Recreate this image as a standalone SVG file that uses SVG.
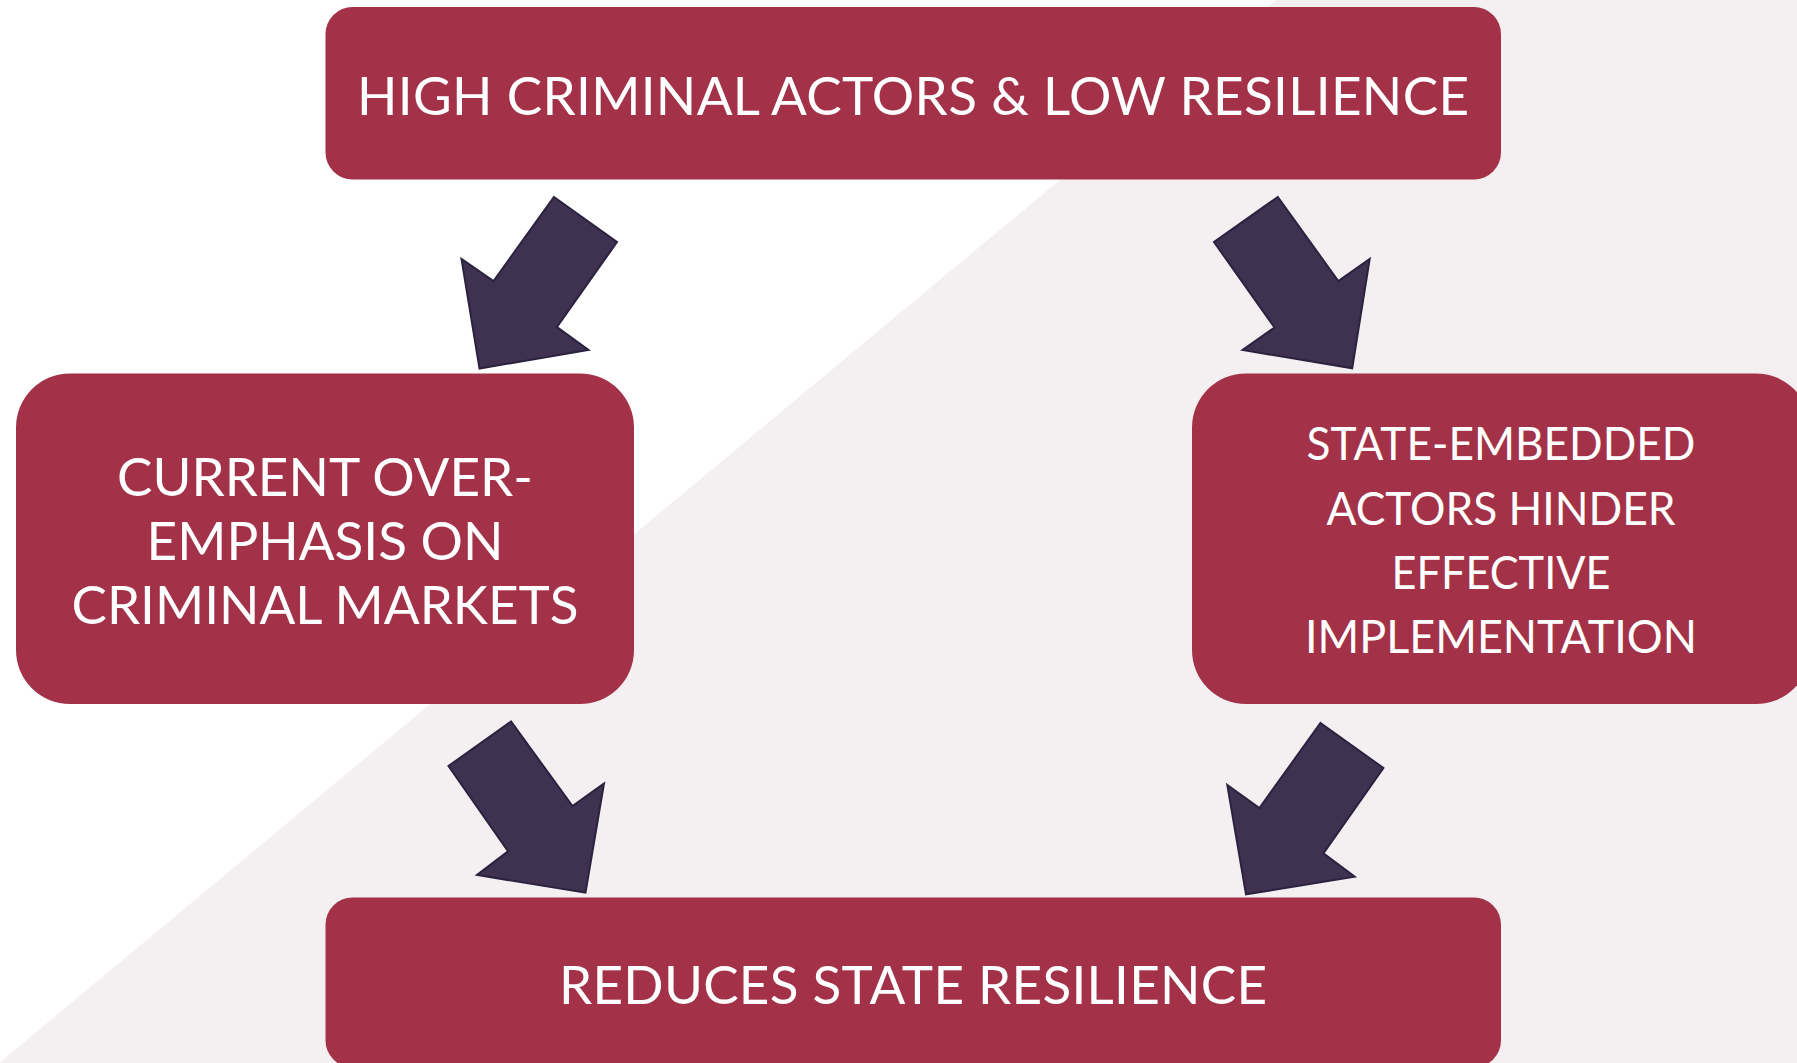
<svg xmlns="http://www.w3.org/2000/svg" width="1797" height="1063" viewBox="0 0 1797 1063">
<style>
.box{fill:#A33248;}
.arr{fill:#3F3150;stroke:#2B2240;stroke-width:2;stroke-linejoin:miter;}
.lbl{font-family:Lato,"Liberation Sans",sans-serif;font-size:53px;fill:#FFFFFF;text-anchor:middle;}
.sm{font-size:47px;}
</style>
<rect x="0" y="0" width="1797" height="1063" fill="#FFFFFF"/>
<polygon points="1276,0 1797,0 1797,1063 -1,1063" fill="#F4F0F1"/>
<g id="connectors">
<polygon class="arr" points="554,197 617,242 557,327 588.5,350 479.5,368.5 461.5,259 493.5,281"/>
<polygon class="arr" points="1277.7,197 1214,242 1274.5,327.5 1242.6,350 1352.2,368.3 1369.7,259 1338.3,281"/>
<polygon class="arr" points="511,721.5 448.5,766 508,851.3 477,875 585.5,892.7 604,783.5 572.5,806"/>
<polygon class="arr" points="1320.5,723 1383.4,768 1323.4,853.3 1354.7,876.7 1246,894.4 1227.3,785 1259.4,808"/>
</g>
<g id="node-top">
<rect class="box" x="325.5" y="7" width="1175.5" height="172.5" rx="27" ry="27"/>
<text class="lbl" x="913" y="114.5" textLength="1112">HIGH CRIMINAL ACTORS &amp; LOW RESILIENCE</text>
</g>
<g id="node-left">
<rect class="box" x="16" y="373.5" width="618" height="330.5" rx="54" ry="54"/>
<text class="lbl" x="325" y="495.5">CURRENT OVER-</text>
<text class="lbl" x="325" y="560">EMPHASIS ON</text>
<text class="lbl" x="325" y="623.5">CRIMINAL MARKETS</text>
</g>
<g id="node-right">
<rect class="box" x="1192" y="373.5" width="618" height="330.5" rx="54" ry="54"/>
<text class="lbl sm" x="1501" y="460" textLength="389" lengthAdjust="spacingAndGlyphs">STATE-EMBEDDED</text>
<text class="lbl sm" x="1501" y="524.5" textLength="349" lengthAdjust="spacingAndGlyphs">ACTORS HINDER</text>
<text class="lbl sm" x="1501" y="588.5" textLength="219" lengthAdjust="spacingAndGlyphs">EFFECTIVE</text>
<text class="lbl sm" x="1501" y="652.5" textLength="392" lengthAdjust="spacingAndGlyphs">IMPLEMENTATION</text>
</g>
<g id="node-bottom">
<rect class="box" x="325.5" y="897.5" width="1175.5" height="170" rx="27" ry="27"/>
<text class="lbl" x="913" y="1004" textLength="708">REDUCES STATE RESILIENCE</text>
</g>
</svg>
